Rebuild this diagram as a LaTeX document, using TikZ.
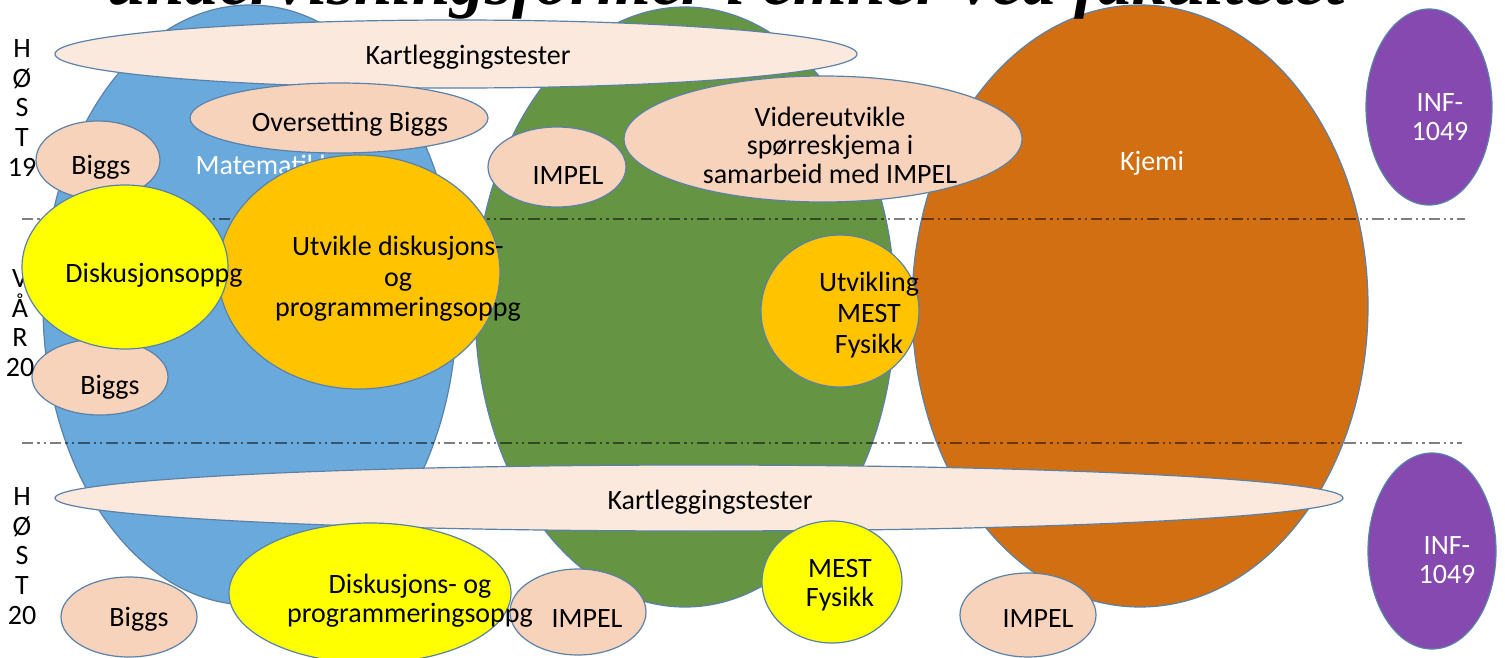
\documentclass[tikz,border=0pt]{standalone}
\usepackage{fontspec}
\setmainfont{Carlito}
\newfontfamily\titlefont{Liberation Serif}
\usetikzlibrary{shapes.geometric}

\definecolor{mathblue}{HTML}{6AA9DC}
\definecolor{fysgreen}{HTML}{659443}
\definecolor{kjemorange}{HTML}{D16F12}
\definecolor{infpurple}{HTML}{8549AF}
\definecolor{peach}{HTML}{F8D3BC}
\definecolor{kartfill}{HTML}{FCE9DE}
\definecolor{yel}{HTML}{FFFF00}
\definecolor{gold}{HTML}{FFC300}
\definecolor{edge}{HTML}{5A82A8}

\begin{document}
\begin{tikzpicture}[x=0.75pt,y=-0.75pt,
  every node/.style={font=\fontsize{21}{22}\selectfont, text=black, inner sep=0pt},
  ov/.style 2 args={ellipse, draw=edge, line width=0.9pt,
    minimum width=1.5pt*#1, minimum height=1.5pt*#2, inner sep=0pt},
  wtxt/.style={text=white, align=center},
  btxt/.style={text=black, align=center},
  season/.style={align=center, font=\fontsize{21}{22.2}\selectfont},
  sepline/.style={draw=black, draw opacity=0.5, line width=2.2pt,
    dash pattern=on 8.5pt off 3pt on 1.8pt off 3pt on 1.8pt off 3pt}]
\clip (0,0) rectangle (1505,657);
\fill[white] (0,0) rectangle (1505,657);

% subject areas
\node[ov={207}{300}, fill=mathblue] (matte) at (250,305) {};
\node[ov={210}{300}, fill=fysgreen] (fysikk) at (685,307) {};
\node[ov={228}{301}, fill=kjemorange] (kjemi) at (1140,306) {};
\node[ov={63}{98}, fill=infpurple] (infA) at (1429,107) {};
\node[ov={64}{98}, fill=infpurple] (infB) at (1432,551) {};
\node[wtxt] (matte-t) at (264,165) {Matematikk};
\node[wtxt] (kjemi-t) at (1152,163) {Kjemi};
\node[wtxt] (infA-t) at (1440,117) {INF-\\1049};
\node[wtxt] (infB-t) at (1447,560) {INF-\\1049};

% semester boundaries
\coordinate (s1w) at (22,219);
\coordinate (s1e) at (1465,219);
\coordinate (s2w) at (22,443);
\coordinate (s2e) at (1462,443);
\draw[sepline] (s1w) -- (s1e);
\draw[sepline] (s2w) -- (s2e);

% autumn 19
\node[season] (h19) at (22,108) {H\\Ø\\S\\T\\19};
\node[ov={401}{34}, fill=kartfill] (kartA) at (456,54) {};
\node[btxt] (kartA-t) at (468,57) {Kartleggingstester};
\node[ov={149}{35}, fill=peach] (overs) at (339,118) {};
\node[btxt] (overs-t) at (350,124) {Oversetting Biggs};
\node[ov={62}{39}, fill=peach] (biggsA) at (98,160) {};
\node[btxt] (biggsA-t) at (101,167) {Biggs};
\node[ov={69}{40}, fill=peach] (impelA) at (557,167) {};
\node[btxt] (impelA-t) at (568,176) {IMPEL};
\node[ov={199}{63}, fill=peach] (vid) at (823,139) {};
\node[btxt, font=\fontsize{21}{21.4}\selectfont] (vid-t) at (830,145)
  {Videreutvikle\\spørreskjema i\\samarbeid med IMPEL};

% spring 20
\node[ov={68}{38}, fill=peach] (biggsB) at (100,377) {};
\node[btxt] (biggsB-t) at (110,387) {Biggs};
\node[season] (v20) at (20,323) {V\\Å\\R\\20};
\node[ov={141}{117}, fill=gold] (utv) at (359,272) {};
\node[btxt, font=\fontsize{21}{23}\selectfont] (utv-t) at (398,279)
  {Utvikle diskusjons-\\og\\programmeringsoppg};
\node[ov={103}{82}, fill=yel] (disk) at (125,267) {};
\node[btxt] (disk-t) at (154,275) {Diskusjonsoppg};
\node[ov={79}{76}, fill=gold] (mest) at (840,311) {};
\node[btxt, font=\fontsize{21}{23}\selectfont] (mest-t) at (869,315)
  {Utvikling\\MEST\\Fysikk};

% autumn 20
\node[season] (h20) at (22,556) {H\\Ø\\S\\T\\20};
\node[ov={644}{33}, fill=kartfill] (kartB) at (699,498) {};
\node[btxt] (kartB-t) at (710,502) {Kartleggingstester};
\node[ov={70}{61}, fill=yel] (mestB) at (832,582) {};
\node[btxt] (mestB-t) at (840,585) {MEST\\Fysikk};
\node[ov={68}{40}, fill=peach] (biggsC) at (129,617) {};
\node[btxt] (biggsC-t) at (139,619) {Biggs};
\node[ov={68}{43}, fill=peach] (impelB) at (578,612) {};
\node[btxt] (impelB-t) at (587,619) {IMPEL};
\node[ov={141}{70}, fill=yel] (diskB) at (370,593) {};
\node[btxt] (diskB-t) at (410,601) {Diskusjons- og\\programmeringsoppg};
\node[ov={68}{42}, fill=peach] (impelC) at (1028,615) {};
\node[btxt] (impelC-t) at (1038,619) {IMPEL};

% heading
\node[anchor=base, font=\titlefont\bfseries\itshape\fontsize{52}{52}\selectfont]
  (title) at (726,4) {undervisningsformer i emner ved fakultetet};
\end{tikzpicture}
\end{document}
